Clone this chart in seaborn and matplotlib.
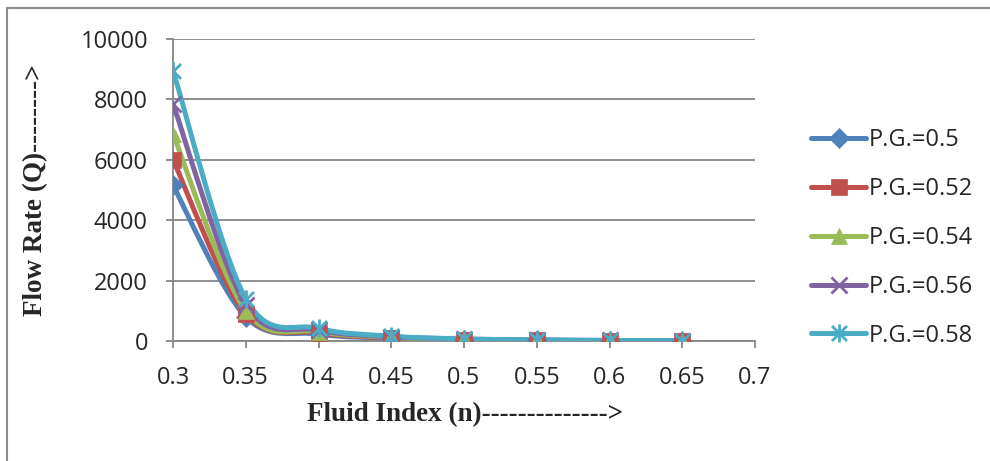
import numpy as np
import pandas as pd
import matplotlib
matplotlib.use("Agg")
import matplotlib.pyplot as plt
import seaborn as sns
from matplotlib.path import Path
from matplotlib.patches import PathPatch, Rectangle
from matplotlib.lines import Line2D

# ---- data ----
fluid_index = [0.3, 0.35, 0.4, 0.45, 0.5, 0.55, 0.6, 0.65]
series_names = ["P.G.=0.5", "P.G.=0.52", "P.G.=0.54", "P.G.=0.56", "P.G.=0.58"]
q_050 = [5150, 800, 230, 90, 40, 20, 10, 5]
q_052 = [6000, 900, 270, 105, 48, 24, 13, 7]
q_054 = [6850, 1000, 310, 120, 55, 28, 15, 8]
q_056 = [7850, 1200, 360, 140, 62, 32, 17, 9]
q_058 = [8950, 1400, 420, 160, 70, 36, 19, 10]
y_ticks = [0, 2000, 4000, 6000, 8000, 10000]
x_ticks = [0.3, 0.35, 0.4, 0.45, 0.5, 0.55, 0.6, 0.65, 0.7]
x_tick_labels = ["0.3", "0.35", "0.4", "0.45", "0.5", "0.55", "0.6", "0.65", "0.7"]

all_q = [q_050, q_052, q_054, q_056, q_058]
df = pd.DataFrame({
    "n": fluid_index * len(series_names),
    "Q": sum(all_q, []),
    "series": sum([[s] * len(fluid_index) for s in series_names], []),
})

colors = ["#4F81BD", "#C0504D", "#9BBB59", "#8064A2", "#4BACC6"]

# Excel-style asterisk marker: X plus vertical bar
star_verts = [(-1, -1), (1, 1), (-1, 1), (1, -1), (0, -1.2), (0, 1.2)]
star_codes = [Path.MOVETO, Path.LINETO, Path.MOVETO, Path.LINETO, Path.MOVETO, Path.LINETO]
star_marker = Path(star_verts, star_codes)
markers = ["D", "s", "^", "x", star_marker]
msizes = [10.5, 12, 12, 11, 13]

sns.set_style("white")
fig = plt.figure(figsize=(9.9, 4.61), dpi=100)
ax = fig.add_axes([173 / 990, 1 - 341 / 461, (755 - 173) / 990, (341 - 39) / 461])

gray = "#868686"

def smooth_path(xs, ys):
    pts = np.column_stack([xs, ys]).astype(float)
    verts = [tuple(pts[0])]
    codes = [Path.MOVETO]
    n = len(pts)
    for i in range(n - 1):
        p0 = pts[i - 1] if i > 0 else pts[i]
        p1 = pts[i]
        p2 = pts[i + 1]
        p3 = pts[i + 2] if i + 2 < n else pts[i + 1]
        c1 = p1 + (p2 - p0) / 6.0
        c2 = p2 - (p3 - p1) / 6.0
        verts += [tuple(c1), tuple(c2), tuple(p2)]
        codes += [Path.CURVE4, Path.CURVE4, Path.CURVE4]
    return Path(verts, codes)

handles = []
for i, name in enumerate(series_names):
    sub = df[df["series"] == name]
    patch = PathPatch(smooth_path(sub["n"].values, sub["Q"].values),
                      facecolor="none", edgecolor=colors[i], lw=3.6,
                      capstyle="round", joinstyle="round", zorder=3 + i * 0.1)
    ax.add_patch(patch)

for i, name in enumerate(series_names):
    sub = df[df["series"] == name]
    sns.lineplot(data=sub, x="n", y="Q", ax=ax, color=colors[i], linestyle="none",
                 marker=markers[i], markersize=msizes[i], markeredgewidth=2 if i >= 3 else 0.5,
                 markeredgecolor=colors[i], markerfacecolor=colors[i], legend=False,
                 zorder=5 + i * 0.1)
    handles.append(Line2D([0], [0], color=colors[i], lw=3.6, marker=markers[i],
                          markersize=msizes[i], markeredgewidth=2 if i >= 3 else 0.5,
                          markeredgecolor=colors[i], markerfacecolor=colors[i],
                          solid_capstyle="round"))

ax.set_xlim(0.3, 0.7)
ax.set_ylim(0, 10000)
ax.set_xticks(x_ticks)
ax.set_xticklabels(x_tick_labels)
ax.set_yticks(y_ticks)
ax.grid(axis="y", color=gray, lw=1.3)
ax.grid(axis="x", visible=False)
ax.set_axisbelow(True)
for s in ["top", "right"]:
    ax.spines[s].set_visible(False)
for s in ["left", "bottom"]:
    ax.spines[s].set_color(gray)
    ax.spines[s].set_linewidth(1.3)
ax.tick_params(axis="both", which="major", length=5, width=1.3, color=gray,
               direction="out", labelsize=17, bottom=True, left=True)
ax.tick_params(axis="x", pad=13)
ax.tick_params(axis="y", pad=13)
for lab in ax.get_xticklabels() + ax.get_yticklabels():
    lab.set_fontfamily("Open Sans")

ax.set_xlabel("Fluid Index (n)-------------->", fontfamily="Liberation Serif",
              fontweight="bold", fontsize=19.5)
ax.set_ylabel("Flow Rate (Q)-------->", fontfamily="Liberation Serif",
              fontweight="bold", fontsize=19.5)
ax.xaxis.set_label_coords((465 - 173) / (755 - 173), -(415 - 341) / (341 - 39))
ax.yaxis.set_label_coords(-(173 - 36) / (755 - 173), (341 - 190) / (341 - 39))
ax.xaxis.label.set_va("center")
ax.yaxis.label.set_va("center")

leg = fig.legend(handles, series_names, loc="center left",
                 bbox_to_anchor=(811 / 990, 1 - 238 / 461), frameon=False,
                 borderpad=0, borderaxespad=0,
                 prop={"family": "Open Sans", "size": 17}, handlelength=2.35,
                 labelspacing=1.05, handletextpad=0.08)

# outer chart border
fig.patches.append(Rectangle((7 / 990, -0.1), 1.2, 1 - 8 / 461 + 0.1,
                             transform=fig.transFigure, fill=False,
                             edgecolor="#8C8C8C", lw=1.5))

fig.savefig("out.png", dpi=100)
